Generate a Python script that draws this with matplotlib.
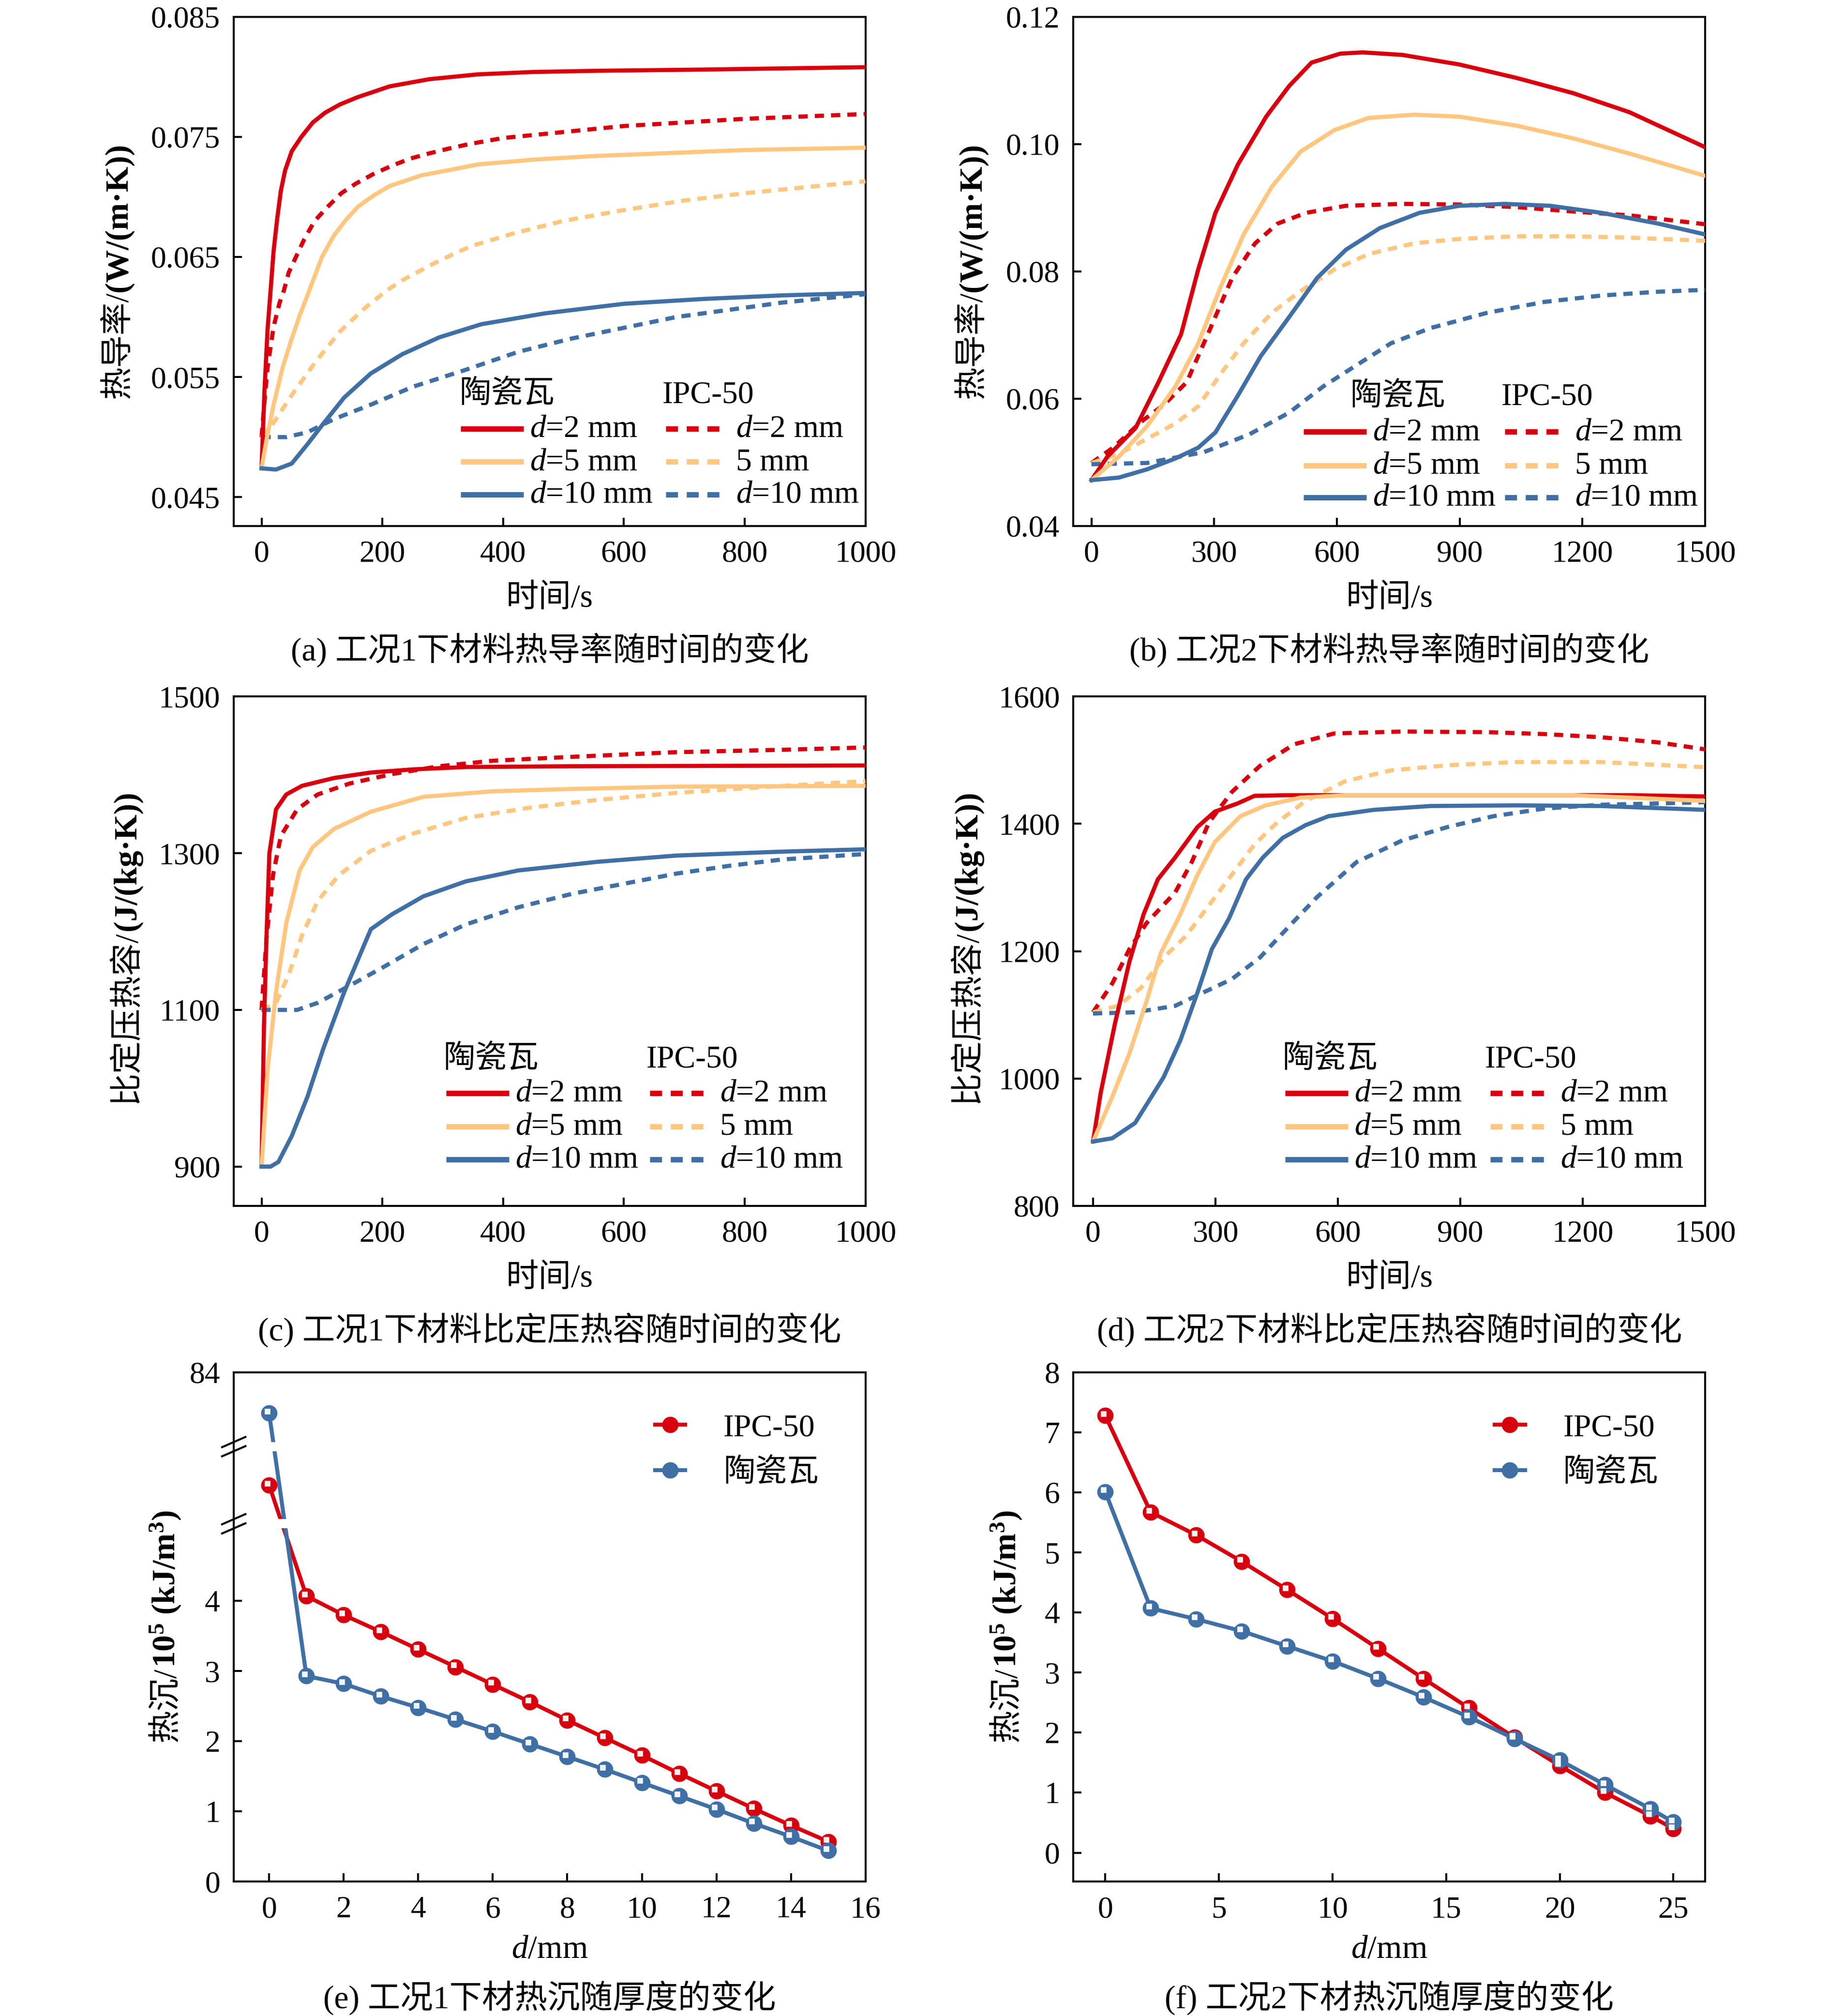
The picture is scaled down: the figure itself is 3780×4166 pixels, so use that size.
import numpy as np
import matplotlib
matplotlib.use('Agg')
import matplotlib.pyplot as plt
from matplotlib import transforms
from matplotlib.patches import Rectangle
from matplotlib.legend_handler import HandlerTuple

plt.rcParams['font.family'] = ['Liberation Serif', 'Noto Sans CJK SC']
plt.rcParams['mathtext.fontset'] = 'custom'
plt.rcParams['mathtext.rm'] = 'Liberation Serif'
plt.rcParams['mathtext.it'] = 'Liberation Serif:italic'
plt.rcParams['mathtext.bf'] = 'Liberation Serif:bold'
plt.rcParams['axes.unicode_minus'] = False

# --- (a) thermal conductivity, case 1 ---
A_T_TILE2 = [0, 5, 10, 15, 20, 26, 32, 39, 50, 66, 85, 105, 130, 159, 212, 278, 358, 450, 556, 731, 1000]
A_K_TILE2 = [0.0474, 0.0540, 0.0590, 0.0622, 0.0655, 0.0682, 0.0705, 0.0722, 0.0738, 0.0750, 0.0762,
             0.0770, 0.0777, 0.0783, 0.0792, 0.0798, 0.0802, 0.0804, 0.0805, 0.0806, 0.0808]
A_T_TILE5 = [0, 8, 20, 35, 50, 63, 79, 100, 120, 140, 160, 185, 212, 265, 318, 358, 450, 550, 650, 800, 1000]
A_K_TILE5 = [0.0474, 0.0497, 0.0527, 0.0558, 0.0582, 0.0601, 0.0622, 0.0650, 0.0668, 0.0681, 0.0692,
             0.0701, 0.0709, 0.0718, 0.0723, 0.0727, 0.0731, 0.0734, 0.0736, 0.0739, 0.0741]
A_T_TILE10 = [0, 24, 50, 76, 102, 137, 181, 233, 294, 364, 469, 600, 731, 862, 1000]
A_K_TILE10 = [0.0474, 0.0473, 0.0478, 0.0494, 0.0511, 0.0533, 0.0553, 0.0569, 0.0583, 0.0594, 0.0603,
              0.0611, 0.0615, 0.0618, 0.0620]
A_T_IPC2 = [0, 5, 10, 20, 30, 37, 45, 57, 71, 88, 108, 132, 156, 185, 216, 247, 276, 308, 344, 400,
            500, 600, 700, 800, 900, 1000]
A_K_IPC2 = [0.0500, 0.0530, 0.0558, 0.0592, 0.0612, 0.0622, 0.0637, 0.0650, 0.0665, 0.0680, 0.0691,
            0.0703, 0.0711, 0.0719, 0.0726, 0.0732, 0.0736, 0.0740, 0.0744, 0.0749, 0.0754, 0.0759,
            0.0762, 0.0765, 0.0767, 0.0769]
A_T_IPC5 = [0, 20, 50, 90, 130, 170, 207, 231, 257, 287, 316, 347, 420, 500, 600, 700, 800, 900, 1000]
A_K_IPC5 = [0.0500, 0.0512, 0.0535, 0.0563, 0.0588, 0.0607, 0.0622, 0.0630, 0.0637, 0.0645, 0.0652,
            0.0659, 0.0670, 0.0680, 0.0689, 0.0697, 0.0703, 0.0708, 0.0713]
A_T_IPC10 = [0, 41, 76, 120, 181, 251, 338, 425, 513, 600, 687, 775, 862, 1000]
A_K_IPC10 = [0.0500, 0.0500, 0.0504, 0.0515, 0.0527, 0.0542, 0.0556, 0.0571, 0.0582, 0.0591, 0.0600,
             0.0606, 0.0612, 0.0619]

# --- (b) thermal conductivity, case 2 ---
B_T_TILE2 = [0, 39, 108, 164, 219, 261, 303, 358, 427, 483, 538, 608, 663, 760, 899, 1038, 1177, 1315, 1500]
B_K_TILE2 = [0.0472, 0.0509, 0.0554, 0.0626, 0.0701, 0.0803, 0.0892, 0.0968, 0.1043, 0.1091, 0.1128,
             0.1142, 0.1144, 0.1140, 0.1125, 0.1104, 0.1080, 0.1050, 0.0995]
B_T_TILE5 = [0, 67, 136, 205, 261, 316, 372, 441, 511, 594, 677, 788, 899, 1038, 1177, 1315, 1500]
B_K_TILE5 = [0.0472, 0.0509, 0.0557, 0.0619, 0.0687, 0.0776, 0.0858, 0.0933, 0.0988, 0.1022, 0.1041,
             0.1046, 0.1043, 0.1029, 0.1009, 0.0985, 0.0950]
B_T_TILE10 = [0, 67, 136, 205, 261, 303, 358, 414, 483, 552, 622, 705, 802, 899, 1010, 1121, 1246, 1385, 1500]
B_K_TILE10 = [0.0472, 0.0476, 0.0489, 0.0506, 0.0523, 0.0547, 0.0605, 0.0667, 0.0728, 0.0790, 0.0834,
              0.0868, 0.0892, 0.0903, 0.0906, 0.0903, 0.0892, 0.0875, 0.0858]
B_T_IPC2 = [0, 53, 122, 178, 233, 289, 344, 400, 455, 525, 622, 760, 899, 1038, 1177, 1315, 1500]
B_K_IPC2 = [0.0499, 0.0523, 0.0564, 0.0591, 0.0626, 0.0708, 0.0790, 0.0844, 0.0875, 0.0892, 0.0903,
            0.0906, 0.0905, 0.0901, 0.0894, 0.0888, 0.0874]
B_T_IPC5 = [0, 67, 136, 205, 261, 316, 372, 441, 511, 594, 677, 788, 899, 1038, 1177, 1315, 1500]
B_K_IPC5 = [0.0499, 0.0513, 0.0537, 0.0561, 0.0588, 0.0639, 0.0687, 0.0735, 0.0769, 0.0803, 0.0827,
            0.0844, 0.0851, 0.0855, 0.0855, 0.0853, 0.0848]
B_T_IPC10 = [0, 136, 275, 386, 483, 566, 649, 732, 829, 968, 1107, 1246, 1385, 1500]
B_K_IPC10 = [0.0497, 0.0499, 0.0516, 0.0544, 0.0578, 0.0619, 0.0653, 0.0687, 0.0711, 0.0735, 0.0752,
             0.0762, 0.0768, 0.0771]

# --- (c) specific heat, case 1 ---
C_T_TILE2 = [0, 4, 8, 13, 24, 41, 67, 120, 181, 251, 338, 513, 1000]
C_C_TILE2 = [900, 1078, 1189, 1300, 1356, 1375, 1386, 1396, 1403, 1407, 1410, 1411, 1412]
C_T_TILE5 = [0, 10, 24, 41, 63, 85, 120, 181, 268, 382, 513, 687, 1000]
C_C_TILE5 = [900, 1023, 1123, 1211, 1278, 1308, 1331, 1353, 1372, 1379, 1382, 1385, 1386]
C_T_TILE10 = [0, 15, 28, 50, 76, 102, 137, 181, 216, 268, 338, 425, 556, 687, 862, 1000]
C_C_TILE10 = [900, 900, 906, 939, 989, 1050, 1123, 1203, 1222, 1245, 1264, 1278, 1289, 1297, 1302, 1305]
C_T_IPC2 = [0, 8, 19, 32, 59, 93, 146, 216, 294, 382, 513, 687, 862, 1000]
C_C_IPC2 = [1100, 1189, 1272, 1322, 1356, 1375, 1389, 1401, 1411, 1418, 1423, 1429, 1432, 1435]
C_T_IPC5 = [0, 24, 45, 67, 93, 128, 181, 251, 338, 443, 556, 687, 862, 1000]
C_C_IPC5 = [1100, 1109, 1145, 1195, 1239, 1272, 1303, 1325, 1345, 1358, 1368, 1377, 1386, 1392]
C_T_IPC10 = [0, 59, 93, 146, 198, 268, 338, 425, 513, 600, 687, 775, 862, 1000]
C_C_IPC10 = [1100, 1100, 1109, 1131, 1153, 1184, 1209, 1231, 1248, 1261, 1274, 1284, 1292, 1299]

# --- (d) specific heat, case 2 ---
D_T_TILE2 = [0, 19, 54, 89, 124, 159, 201, 256, 298, 354, 396, 479, 758, 1036, 1315, 1500]
D_C_TILE2 = [901, 978, 1087, 1183, 1258, 1313, 1347, 1395, 1419, 1432, 1444, 1445, 1445, 1445, 1445, 1443]
D_T_TILE5 = [0, 47, 89, 131, 166, 214, 256, 298, 361, 423, 507, 618, 897, 1175, 1500]
D_C_TILE5 = [901, 971, 1039, 1121, 1197, 1258, 1320, 1371, 1412, 1429, 1441, 1445, 1445, 1445, 1436]
D_T_TILE10 = [0, 47, 103, 173, 214, 256, 291, 333, 375, 416, 465, 521, 577, 688, 827, 1036, 1245, 1500]
D_C_TILE10 = [901, 906, 930, 1002, 1060, 1135, 1203, 1251, 1313, 1347, 1378, 1398, 1412, 1422, 1428,
              1429, 1428, 1422]
D_T_IPC2 = [0, 47, 89, 131, 201, 242, 284, 340, 409, 493, 591, 758, 967, 1106, 1245, 1384, 1500]
D_C_IPC2 = [1104, 1149, 1203, 1244, 1292, 1340, 1402, 1450, 1491, 1525, 1542, 1545, 1544, 1541, 1536,
            1528, 1517]
D_T_IPC5 = [0, 61, 117, 173, 228, 284, 340, 396, 451, 521, 618, 730, 869, 1036, 1245, 1500]
D_C_IPC5 = [1104, 1114, 1142, 1190, 1224, 1272, 1320, 1368, 1402, 1436, 1467, 1484, 1492, 1497, 1497, 1489]
D_T_IPC10 = [0, 103, 201, 270, 340, 409, 479, 549, 646, 758, 869, 981, 1106, 1245, 1384, 1500]
D_C_IPC10 = [1102, 1104, 1114, 1135, 1156, 1190, 1238, 1285, 1340, 1374, 1395, 1412, 1424, 1430, 1432, 1434]

# --- (e)/(f) heat sink vs thickness ---
E_D = [0, 1, 2, 3, 4, 5, 6, 7, 8, 9, 10, 11, 12, 13, 14, 15]
E_IPC = [7.1, 4.07, 3.80, 3.56, 3.31, 3.06, 2.81, 2.56, 2.30, 2.05, 1.80, 1.54, 1.29, 1.04, 0.80, 0.57]
E_TILE = [79.6, 2.93, 2.82, 2.64, 2.48, 2.31, 2.14, 1.96, 1.78, 1.60, 1.41, 1.22, 1.03, 0.83, 0.64, 0.44]
F_D = [0, 2, 4, 6, 8, 10, 12, 14, 16, 18, 20, 22, 24, 25]
F_IPC = [7.28, 5.67, 5.29, 4.85, 4.38, 3.90, 3.40, 2.90, 2.41, 1.92, 1.45, 1.00, 0.61, 0.40]
F_TILE = [6.01, 4.07, 3.89, 3.69, 3.44, 3.19, 2.90, 2.59, 2.26, 1.90, 1.54, 1.13, 0.73, 0.51]

RED = '#D7000F'
ORANGE = '#FFC680'
BLUE = '#3F6FA5'

TICK_FS = 17
LEG_FS = 17.5
LABEL_FS = 18
CAP_FS = 18

# broken y axis of panel (e): real value -> drawn position
E_REAL = [-10.0, 0.0, 5.1, 9.1, 76.0, 84.0, 200.0]
E_DISP = [-10.0, 0.0, 5.1, 6.2, 6.2001, 7.26, 22.63]


def e_fwd(y):
    return np.interp(y, E_REAL, E_DISP)


def e_inv(y):
    return np.interp(y, E_DISP, E_REAL)


fig = plt.figure(figsize=(14, 4166 / 270), dpi=270)
AX_W, AX_H = 0.3454, 0.2526
COL_X = [0.1278, 0.5869]
ROW_Y = [0.7391, 0.4019, 0.0667]


def style_axes(ax, xlim, xticks, ylim, yticks, ylabels):
    ax.set_xlim(xlim)
    ax.set_ylim(ylim)
    ax.set_xticks(xticks)
    ax.set_yticks(yticks, labels=ylabels)
    ax.tick_params(direction='in', length=4.5, width=1.1, labelsize=TICK_FS)
    ax.tick_params(axis='x', pad=8)
    ax.tick_params(axis='y', pad=7.5)
    for s in ax.spines.values():
        s.set_linewidth(1.1)


def split_ylabel(ax, x, y_split, cjk, latin):
    # CJK part below the split point, bold latin part above it (rotated text)
    kw = dict(rotation=90, rotation_mode='anchor', va='baseline', transform=ax.transAxes,
              fontsize=LABEL_FS)
    ax.text(x, y_split, cjk, ha='right', **kw)
    ax.text(x, y_split, latin, ha='left', fontweight='bold', **kw)


def draw_curves(ax, series):
    for t, v, color, dashed in series:
        if dashed:
            ax.plot(t, v, color=color, lw=2.3, dashes=(2.2, 1.7), zorder=3)
        else:
            ax.plot(t, v, color=color, lw=2.3, zorder=3)


def time_legend(ax, hx, header_x, header_y, rows_y):
    tr = ax.transAxes
    off = 0.016
    ax.text(header_x[0], header_y - off, '陶瓷瓦', transform=tr, va='baseline', fontsize=LEG_FS)
    ax.text(header_x[1], header_y - off, 'IPC-50', transform=tr, va='baseline', fontsize=LEG_FS)
    labels_tile = ['$d$=2 mm', '$d$=5 mm', '$d$=10 mm']
    labels_ipc = ['$d$=2 mm', '5 mm', '$d$=10 mm']
    for y, c, l1, l2 in zip(rows_y, [RED, ORANGE, BLUE], labels_tile, labels_ipc):
        ax.plot([hx[0], hx[0] + 0.1], [y, y], transform=tr, color=c, lw=3, solid_capstyle='butt')
        ax.text(hx[0] + 0.11, y - off, l1, transform=tr, va='baseline', fontsize=LEG_FS)
        ax.plot([hx[1], hx[1] + 0.085], [y, y], transform=tr, color=c, lw=3,
                dashes=(2.2, 1.6), dash_capstyle='butt')
        ax.text(hx[1] + 0.111, y - off, l2, transform=tr, va='baseline', fontsize=LEG_FS)


def sink_panel(ax, d, ipc, tile):
    shift = transforms.ScaledTranslation(-0.9 / 72, 0.9 / 72, fig.dpi_scale_trans)
    handles = []
    for vals, color in ((ipc, RED), (tile, BLUE)):
        line, = ax.plot(d, vals, color=color, lw=2.2, marker='o', ms=8, mec=color, zorder=3)
        glint, = ax.plot(d, vals, ls='none', marker='s', ms=2.3, color='white', alpha=0.9,
                         transform=ax.transData + shift, zorder=4)
        handles.append((line, glint))
    ax.legend(handles=handles, labels=['IPC-50', '陶瓷瓦'],
              handler_map={tuple: HandlerTuple(ndivide=None)},
              loc='center left', bbox_to_anchor=(0.667, 0.846), frameon=False,
              fontsize=LEG_FS, handlelength=1.9, handletextpad=0.25, labelspacing=0.5,
              borderpad=0, borderaxespad=0)


axes = {}
for i, key in enumerate('abcdef'):
    r, c = divmod(i, 2)
    axes[key] = fig.add_axes([COL_X[c], ROW_Y[r], AX_W, AX_H])

# (a)
ax = axes['a']
draw_curves(ax, [
    (A_T_IPC2, A_K_IPC2, RED, True), (A_T_IPC5, A_K_IPC5, ORANGE, True), (A_T_IPC10, A_K_IPC10, BLUE, True),
    (A_T_TILE2, A_K_TILE2, RED, False), (A_T_TILE5, A_K_TILE5, ORANGE, False), (A_T_TILE10, A_K_TILE10, BLUE, False),
])
style_axes(ax, (-46, 1000), range(0, 1001, 200), (0.0426, 0.085),
           [0.045, 0.055, 0.065, 0.075, 0.085], ['0.045', '0.055', '0.065', '0.075', '0.085'])
time_legend(ax, (0.359, 0.684), (0.357, 0.678), 0.258, (0.191, 0.126, 0.062))
split_ylabel(ax, -0.170, 0.46, '热导率/', '(W/(m·K))')

# (b)
ax = axes['b']
draw_curves(ax, [
    (B_T_IPC2, B_K_IPC2, RED, True), (B_T_IPC5, B_K_IPC5, ORANGE, True), (B_T_IPC10, B_K_IPC10, BLUE, True),
    (B_T_TILE2, B_K_TILE2, RED, False), (B_T_TILE5, B_K_TILE5, ORANGE, False), (B_T_TILE10, B_K_TILE10, BLUE, False),
])
style_axes(ax, (-44, 1500), range(0, 1501, 300), (0.04, 0.12),
           [0.04, 0.06, 0.08, 0.10, 0.12], ['0.04', '0.06', '0.08', '0.10', '0.12'])
time_legend(ax, (0.364, 0.683), (0.438, 0.677), 0.254, (0.185, 0.119, 0.056))
split_ylabel(ax, -0.147, 0.46, '热导率/', '(W/(m·K))')

# (c)
ax = axes['c']
draw_curves(ax, [
    (C_T_IPC2, C_C_IPC2, RED, True), (C_T_IPC5, C_C_IPC5, ORANGE, True), (C_T_IPC10, C_C_IPC10, BLUE, True),
    (C_T_TILE2, C_C_TILE2, RED, False), (C_T_TILE5, C_C_TILE5, ORANGE, False), (C_T_TILE10, C_C_TILE10, BLUE, False),
])
style_axes(ax, (-46, 1000), range(0, 1001, 200), (850, 1500),
           [900, 1100, 1300, 1500], ['900', '1100', '1300', '1500'])
time_legend(ax, (0.336, 0.659), (0.332, 0.653), 0.288, (0.221, 0.156, 0.091))
split_ylabel(ax, -0.156, 0.54, '比定压热容/', '(J/(kg·K))')

# (d)
ax = axes['d']
draw_curves(ax, [
    (D_T_IPC2, D_C_IPC2, RED, True), (D_T_IPC5, D_C_IPC5, ORANGE, True), (D_T_IPC10, D_C_IPC10, BLUE, True),
    (D_T_TILE2, D_C_TILE2, RED, False), (D_T_TILE5, D_C_TILE5, ORANGE, False), (D_T_TILE10, D_C_TILE10, BLUE, False),
])
style_axes(ax, (-48, 1500), range(0, 1501, 300), (800, 1600),
           [800, 1000, 1200, 1400, 1600], ['800', '1000', '1200', '1400', '1600'])
time_legend(ax, (0.335, 0.660), (0.331, 0.651), 0.288, (0.221, 0.156, 0.091))
split_ylabel(ax, -0.154, 0.54, '比定压热容/', '(J/(kg·K))')

for key in 'abcd':
    axes[key].set_xlabel('时间/s', fontsize=LABEL_FS)
    axes[key].xaxis.set_label_coords(0.5, -0.114)

# (e) broken axis
ax = axes['e']
ax.set_yscale('function', functions=(e_fwd, e_inv))
sink_panel(ax, E_D, E_IPC, E_TILE)
style_axes(ax, (-0.95, 16), range(0, 17, 2), (0, 84),
           [0, 1, 2, 3, 4, 84], ['0', '1', '2', '3', '4', '84'])
ax.minorticks_off()
for yb in (5.1 / 7.26, 6.2 / 7.26):
    ax.add_patch(Rectangle((0.004, yb - 0.009), 0.2, 0.018, transform=ax.transAxes,
                           facecolor='white', edgecolor='none', zorder=3.5))
    for dy in (-0.009, 0.009):
        ax.plot([-0.0185, 0.0185], [yb + dy - 0.01, yb + dy + 0.01], transform=ax.transAxes,
                color='black', lw=1.1, clip_on=False, zorder=6)
split_ylabel(ax, -0.093, 0.42, '热沉/', '$\\mathbf{10^5\\ (kJ/m^3)}$')

# (f)
ax = axes['f']
sink_panel(ax, F_D, F_IPC, F_TILE)
style_axes(ax, (-1.4, 26.4), range(0, 26, 5), (-0.48, 8),
           range(0, 9), [str(v) for v in range(0, 9)])
split_ylabel(ax, -0.091, 0.42, '热沉/', '$\\mathbf{10^5\\ (kJ/m^3)}$')

for key in 'ef':
    axes[key].set_xlabel('$d$/mm', fontsize=LABEL_FS)
    axes[key].xaxis.set_label_coords(0.5, -0.105)

captions = {
    'a': '(a) 工况1下材料热导率随时间的变化',
    'b': '(b) 工况2下材料热导率随时间的变化',
    'c': '(c) 工况1下材料比定压热容随时间的变化',
    'd': '(d) 工况2下材料比定压热容随时间的变化',
    'e': '(e) 工况1下材热沉随厚度的变化',
    'f': '(f) 工况2下材热沉随厚度的变化',
}
cap_y = [0.6776, 0.3404, 0.009]
for i, key in enumerate('abcdef'):
    r, c = divmod(i, 2)
    fig.text(COL_X[c] + AX_W / 2, cap_y[r], captions[key], ha='center', va='center', fontsize=CAP_FS)

fig.savefig('out.png', dpi=270)
